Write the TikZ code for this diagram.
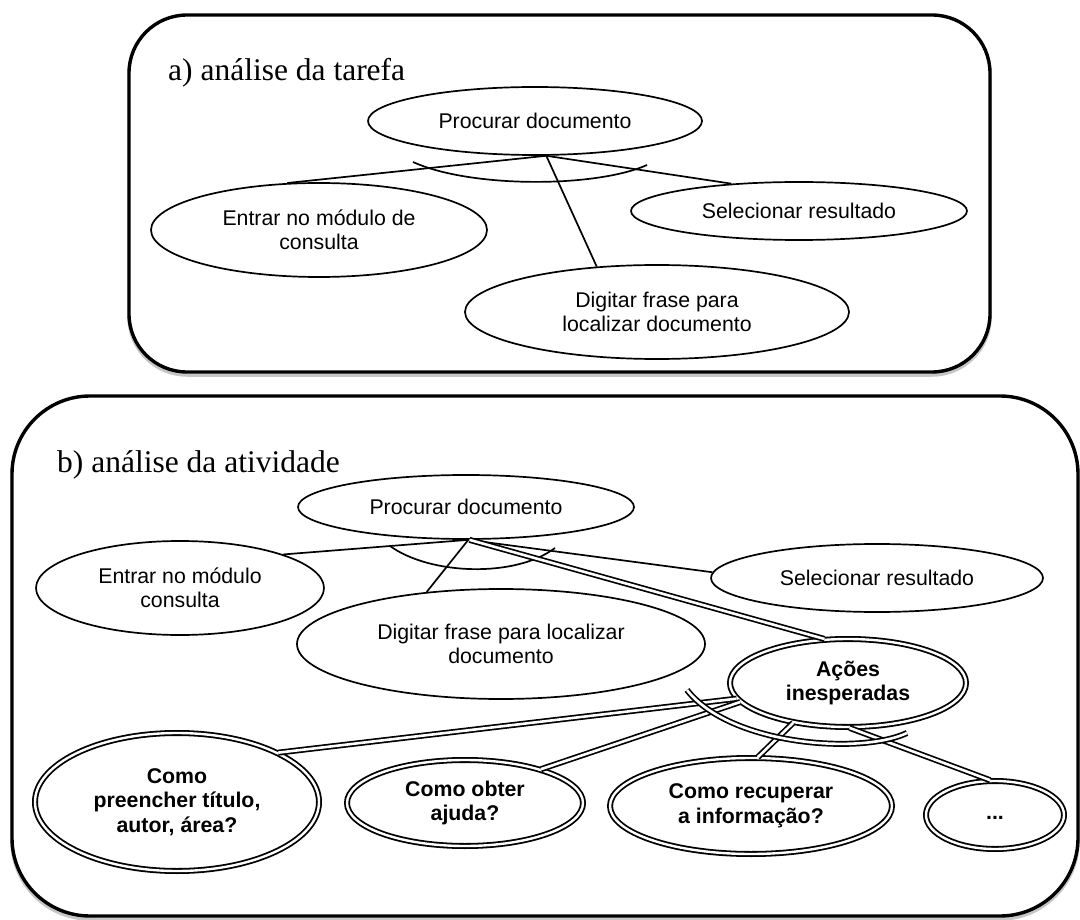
\documentclass[tikz,border=0pt]{standalone}
\usepackage{fontspec}
\setmainfont{Liberation Sans}
\newfontfamily\titlefont{Liberation Serif}
\usetikzlibrary{shapes.geometric}
\begin{document}
\begin{tikzpicture}[x=1pt,y=1pt,
  ell/.style={ellipse,draw,line width=1.7pt,inner sep=0pt,align=center,font=\fontsize{21.3}{24.5}\selectfont},
  dell/.style={ellipse,draw,double,double distance=2.4pt,line width=1.8pt,inner sep=0pt,align=center,font=\fontsize{21.3}{24.5}\selectfont\bfseries},
  conn/.style={line width=1.7pt},
  dconn/.style={double,double distance=2.6pt,line width=1.7pt},
  panel/.style={line width=3.4pt,rounded corners=#1},
  pshadow/.style={line width=3.5pt,draw=gray!45,rounded corners=#1},
  ttl/.style={anchor=base west,inner sep=0pt,font=\titlefont\fontsize{31.5}{36}\selectfont}]
\useasboundingbox (0,0) rectangle (1080,-920);

% ---------- panel a ----------
\draw[pshadow=58] (129,-18) rectangle (990,-375);
\draw[panel=58,fill=white] (129,-15) rectangle (990,-372);
\node[ttl] (ta) at (168,-81) {a) análise da tarefa};

\node[ell,minimum width=334pt,minimum height=68pt] (Pa) at (535,-121) {Procurar documento};
\node[ell,minimum width=336pt,minimum height=94pt] (Ea) at (319,-230) {Entrar no módulo de\\consulta};
\node[ell,minimum width=336pt,minimum height=58pt] (Sa) at (799,-211) {Selecionar resultado};
\node[ell,minimum width=384pt,minimum height=94pt] (Da) at (657,-312) {Digitar frase para\\localizar documento};

\draw[conn] (Pa.-72) -- (Ea.124);
\draw[conn] (Pa.-72) -- (Sa.158);
\draw[conn] (Pa.-72) -- (Da.143.6);
\draw[conn] (413,-162) .. controls (470,-188) and (595,-188) .. (647,-165);

% ---------- panel b ----------
\draw[pshadow=78] (12,-399) rectangle (1078,-919);
\draw[panel=78,fill=white] (12,-396) rectangle (1078,-916);
\node[ttl] (tb) at (57,-472) {b) análise da atividade};

\node[ell,minimum width=336pt,minimum height=64pt] (Pb) at (466,-507) {Procurar documento};
\node[ell,minimum width=288pt,minimum height=94pt] (Eb) at (180,-588) {Entrar no módulo\\consulta};
\node[ell,minimum width=332pt,minimum height=68pt] (Sb) at (877,-578) {Selecionar resultado};
\node[ell,minimum width=408pt,minimum height=110pt] (Db) at (501,-644) {Digitar frase para localizar\\documento};

\node[dell,minimum width=236pt,minimum height=88pt] (Ab) at (848,-683) {Ações\\inesperadas};
\node[dell,minimum width=284pt,minimum height=138pt] (C1) at (177,-802) {Como\\preencher título,\\autor, área?};
\node[dell,minimum width=236pt,minimum height=86pt] (C2) at (465,-803) {Como obter\\ajuda?};
\node[dell,minimum width=282pt,minimum height=96pt] (C3) at (751,-806) {Como recuperar\\a informação?};
\node[dell,minimum width=138pt,minimum height=68pt] (C4) at (995,-815) {\strut...};

\draw[conn] (Pb.-86) -- (Eb.18.8);
\draw[conn] (Pb.-86) -- (Db.145);
\draw[conn] (Pb.-86) -- (Sb.178);
\draw[conn] (390,-546) .. controls (430,-575) and (515,-578) .. (555,-548);
\draw[dconn] (Pb.-84) -- (Ab.118);

\draw[dconn] (Ab.188) -- (C1.26);
\draw[dconn] (Ab.190.5) -- (C2.24);
\draw[dconn] (Ab.216) -- (C3.82);
\draw[dconn] (Ab.-88) -- (C4.98);
\draw[dconn] (687,-690) .. controls (730,-745) and (860,-755) .. (907,-733);
\end{tikzpicture}
\end{document}
